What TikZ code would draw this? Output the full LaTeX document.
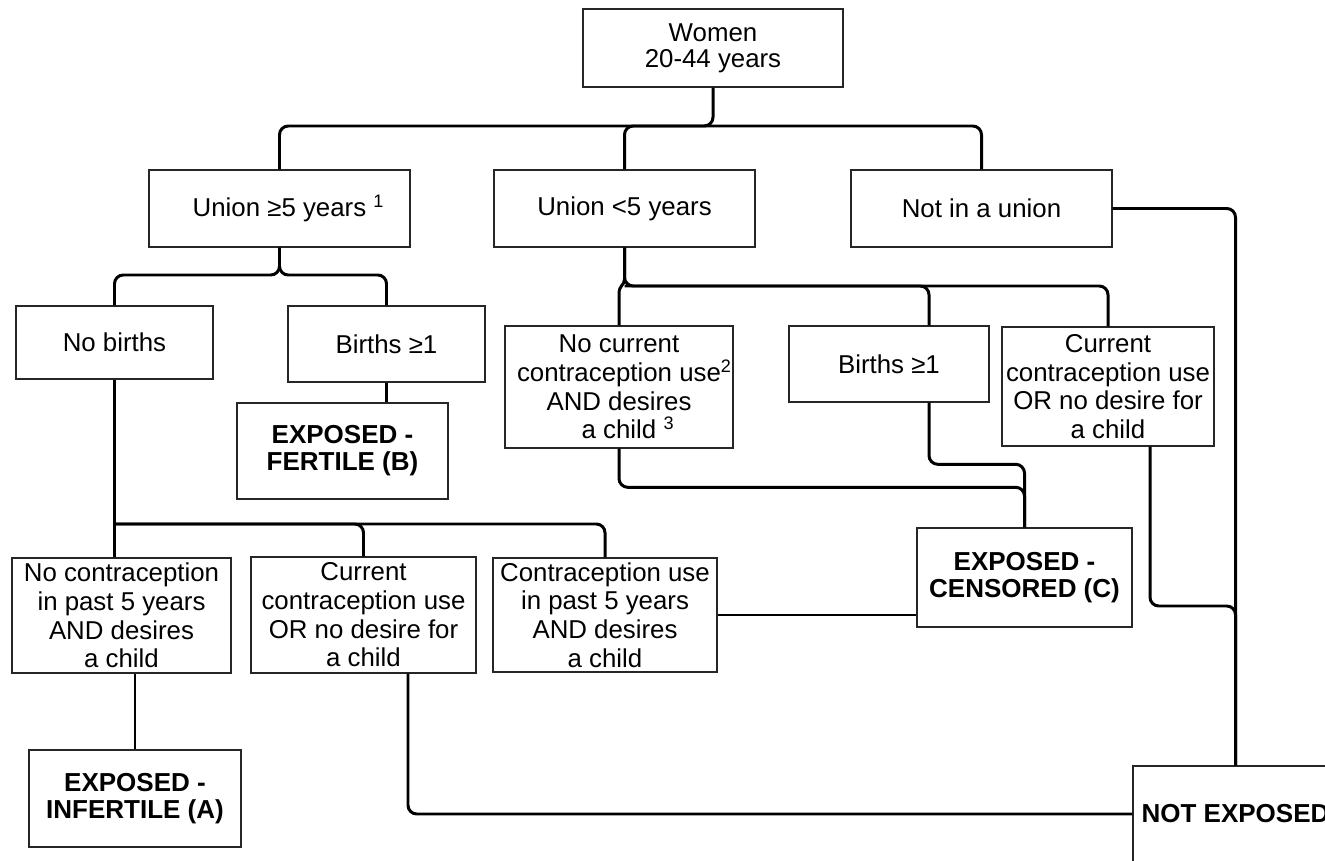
\documentclass[tikz,border=0pt]{standalone}
\usepackage{fontspec}
\setmainfont{Liberation Sans}
\usetikzlibrary{calc}
\tikzset{sz/.style 2 args={minimum width=#1*0.02cm,minimum height=#2*0.02cm}}

\begin{document}
\begin{tikzpicture}[x=0.02cm,y=-0.02cm]
	\tikzstyle{box}=[draw=black!85,line width=0.8pt,align=center,inner sep=0pt,font=\fontsize{14.7}{16.3}\selectfont]
	\tikzstyle{outcome}=[box,font=\fontsize{14.8}{15.5}\selectfont\bfseries]
	\tikzstyle{edge}=[draw=black,line width=1.7pt,rounded corners=5pt]

	\useasboundingbox (0,0) rectangle (1325,861);

	% top levels
	\node [box,sz={260}{78},font=\fontsize{14.7}{15}\selectfont] (women) at (713,48) {Women\\20-44 years};
	\node [box,sz={261}{77}] (u5plus) at (279.5,208.5) {Union ≥5 years\rlap{ \textsuperscript{1}}};
	\node [box,sz={261}{77}] (u5less) at (624.5,208.5) {Union <5 years};
	\node [box,sz={261}{77}] (notu) at (981.5,208.5) {Not in a union};

	\node [box,sz={197}{73}] (nobirth) at (114.5,342.5) {No births};
	\node [box,sz={197}{76}] (birth1) at (386.5,344) {Births ≥1};
	\node [outcome,sz={211}{96}] (fertile) at (342.5,451) {EXPOSED -\\FERTILE (B)};

	\node [box,sz={228}{122}] (nocur) at (619,387) {No current\\contraception use\rlap{\textsuperscript{2}}\\AND desires\\a child\rlap{ \textsuperscript{3}}};
	\node [box,sz={200}{76}] (birth2) at (889,364) {Births ≥1};
	\node [box,sz={212}{119}] (cur2) at (1108,386.5) {Current\\contraception use\\OR no desire for\\a child};
	\node [outcome,sz={215}{99}] (censored) at (1024.5,577.5) {EXPOSED -\\CENSORED (C)};

	% bottom row
	\node [box,sz={219}{115}] (nocon) at (121.5,615.5) {No contraception\\in past 5 years\\AND desires\\a child};
	\node [box,sz={225}{116}] (cur1) at (363.5,615) {Current\\contraception use\\OR no desire for\\a child};
	\node [box,sz={224}{114}] (conuse) at (605,615) {Contraception use\\in past 5 years\\AND desires\\a child};
	\node [outcome,sz={212}{97}] (infertile) at (135,798.5) {EXPOSED -\\INFERTILE (A)};
	\node [outcome,sz={205}{96}] (notexp) at (1235.5,814) {NOT EXPOSED};

	\coordinate (j0) at (713,126);
	\coordinate (j1) at (279.5,275);
	\coordinate (j2) at (114.5,524);
	\coordinate (j3) at (624.5,286);
	\coordinate (j6) at (1235.5,606);

	\path[edge] (women.south) -- (j0) -| (u5plus.north);
	\path[edge] (j0) -| (notu.north);
	\path[edge] (j0) -| (u5less.north);

	\path[edge] (u5plus.south) -- (j1) -| (nobirth.north);
	\path[edge] (u5plus.south) -- (j1) -| (birth1.north);
	\path[edge] (birth1.south) -- (birth1.south |- fertile.north);

	\path[edge] (nobirth.south) -- (nobirth.south |- nocon.north);
	\path[edge] (j2) -| (cur1.north);
	\path[edge] (j2) -| (conuse.north);
	\path[edge] (infertile.north |- nocon.south) -- (infertile.north);
	\path[edge] ($(cur1.south)+(44.5,0)$) |- (notexp.west);
	\path[edge] (conuse.east) -- (conuse.east -| censored.west);

	\path[edge] (u5less.south) -- (j3) -| (cur2.north);
	\path[edge] (j3) -| ($(birth2.north)+(40,0)$);
	\path[edge,sharp corners] (u5less.south) -- ($(j3)+(0,-7)$) .. controls (j3) and ($(nocur.north)+(0,-41)$) .. ($(nocur.north)+(0,-31)$) -- (nocur.north);
	\path[edge] (nocur.south) |- ($(censored.north)+(0,-40)$) -- (censored.north);
	\path[edge] ($(birth2.south)+(40,0)$) |- ($(censored.north)+(0,-63)$) -- (censored.north);

	\path[edge] (notu.east) -| (notexp.north);
	\path[edge] ($(cur2.south)+(42,0)$) |- (j6) -- (notexp.north);

\end{tikzpicture}
\end{document}
